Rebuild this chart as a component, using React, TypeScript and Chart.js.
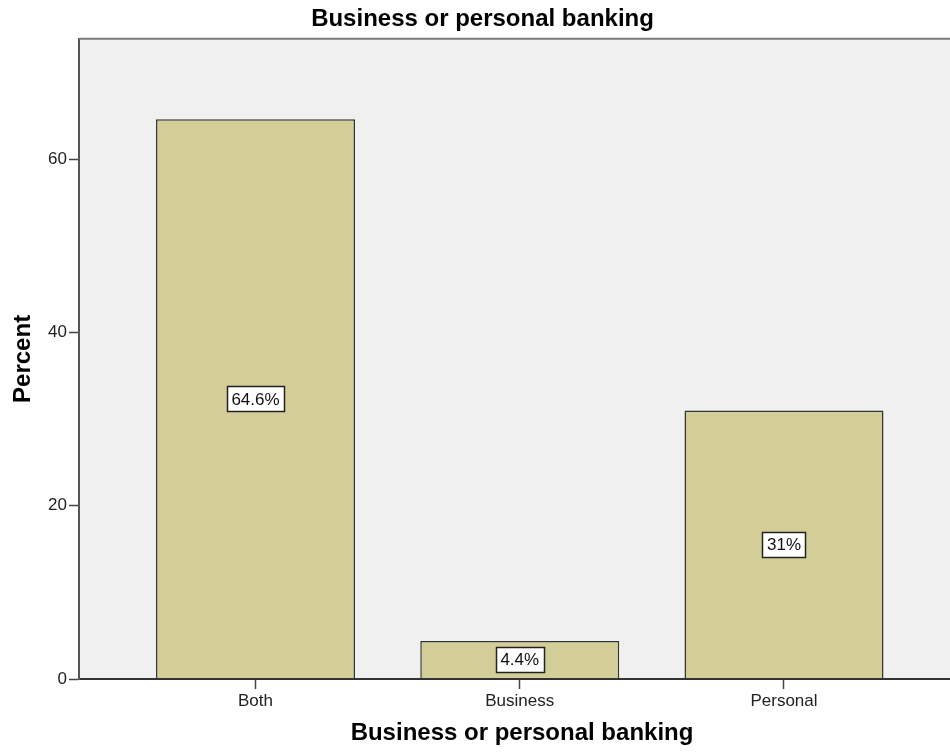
import { useEffect, useRef } from 'react';
import { Chart, registerables } from 'chart.js';

Chart.register(...registerables);

const categories = ['Both', 'Business', 'Personal'];
const percents = [64.6, 4.4, 31];
const yTicks = [0, 20, 40, 60];
const chartTitle = 'Business or personal banking';
const xTitle = 'Business or personal banking';
const yTitle = 'Percent';

const FONT = "'Liberation Sans', Arial, sans-serif";

export default function App() {
  const ref = useRef<HTMLCanvasElement>(null);

  useEffect(() => {
    const canvas = ref.current!;

    const framePlugin = {
      id: 'frame',
      beforeDraw(chart: any) {
        const { ctx, chartArea: a } = chart;
        ctx.save();
        ctx.fillStyle = '#f0f0f0';
        ctx.fillRect(a.left, a.top, a.right - a.left, a.bottom - a.top);
        ctx.restore();
      },
      afterDraw(chart: any) {
        const { ctx, chartArea: a } = chart;
        ctx.save();
        ctx.strokeStyle = '#7a7a7a';
        ctx.lineWidth = 2;
        ctx.beginPath();
        ctx.moveTo(a.left, a.top);
        ctx.lineTo(a.right, a.top);
        ctx.stroke();
        ctx.restore();
      },
    };

    const boxPlugin = {
      id: 'boxes',
      afterDatasetsDraw(chart: any) {
        const { ctx } = chart;
        const meta = chart.getDatasetMeta(0);
        ctx.save();
        ctx.font = `17px ${FONT}`;
        meta.data.forEach((bar: any, i: number) => {
          const { x, y, base } = bar.getProps(['x', 'y', 'base'], true);
          const cy = (y + base) / 2;
          const text = `${percents[i]}%`;
          const w = Math.round(ctx.measureText(text).width + 9);
          const h = 25;
          const left = Math.round(x - w / 2) + 0.5;
          const top = Math.round(cy - h / 2) + 0.5;
          ctx.fillStyle = '#ffffff';
          ctx.fillRect(left, top, w, h);
          ctx.strokeStyle = '#222222';
          ctx.lineWidth = 1.5;
          ctx.strokeRect(left, top, w, h);
          ctx.fillStyle = '#111111';
          ctx.textAlign = 'center';
          ctx.textBaseline = 'middle';
          ctx.fillText(text, x, cy + 1);
        });
        ctx.restore();
      },
    };

    const chart = new Chart(canvas, {
      type: 'bar',
      data: {
        datasets: [
          {
            data: percents.map((v, i) => ({ x: i, y: v })),
            backgroundColor: '#d3ce97',
            borderColor: '#333333',
            borderWidth: 1.5,
            barPercentage: 0.753,
            categoryPercentage: 1,
          },
        ],
      },
      options: {
        responsive: false,
        animation: false,
        devicePixelRatio: 1,
        layout: { padding: 0 },
        plugins: {
          legend: { display: false },
          tooltip: { enabled: false },
          title: {
            display: true,
            text: chartTitle,
            color: '#000',
            font: { family: FONT, size: 24, weight: 'bold' },
            padding: { top: 5, bottom: 5 },
          },
        },
        scales: {
          x: {
            type: 'linear',
            offset: false,
            min: -0.668,
            max: 2.685,
            afterBuildTicks: (s: any) => {
              s.ticks = categories.map((_, i) => ({ value: i }));
            },
            afterFit: (s: any) => {
              s.height = 76;
            },
            ticks: {
              callback: (v: any) => categories[Math.round(Number(v))] ?? '',
              font: { family: FONT, size: 17 },
              color: '#222',
              padding: 2,
              autoSkip: false,
              maxRotation: 0,
            },
            grid: {
              offset: false,
              drawOnChartArea: false,
              drawTicks: true,
              tickLength: 10,
              tickColor: '#444',
              tickWidth: 1.5,
            },
            border: { color: '#333', width: 2, z: 1 },
            title: {
              display: true,
              text: xTitle,
              color: '#000',
              font: { family: FONT, size: 24, weight: 'bold' },
              padding: { top: 7, bottom: 7 },
            },
          },
          y: {
            min: 0,
            max: 73.9,
            afterBuildTicks: (s: any) => {
              s.ticks = yTicks.map((v) => ({ value: v }));
            },
            afterFit: (s: any) => {
              s.width = 79;
            },
            ticks: {
              font: { family: FONT, size: 17 },
              color: '#222',
              padding: 2,
            },
            grid: {
              drawOnChartArea: false,
              drawTicks: true,
              tickLength: 10,
              tickColor: '#444',
              tickWidth: 1.5,
            },
            border: { color: '#555', width: 2, z: 1 },
            title: {
              display: true,
              text: yTitle,
              color: '#000',
              font: { family: FONT, size: 24, weight: 'bold' },
              padding: { top: 9, bottom: 0 },
            },
          },
        },
      },
      plugins: [framePlugin, boxPlugin],
    } as any);

    return () => chart.destroy();
  }, []);

  return (
    <div
      style={{
        position: 'fixed',
        left: 0,
        top: 0,
        width: 950,
        height: 755,
        overflow: 'hidden',
        background: '#fff',
      }}
    >
      <canvas
        ref={ref}
        width={965}
        height={755}
        style={{ display: 'block', width: 965, height: 755 }}
      />
    </div>
  );
}
